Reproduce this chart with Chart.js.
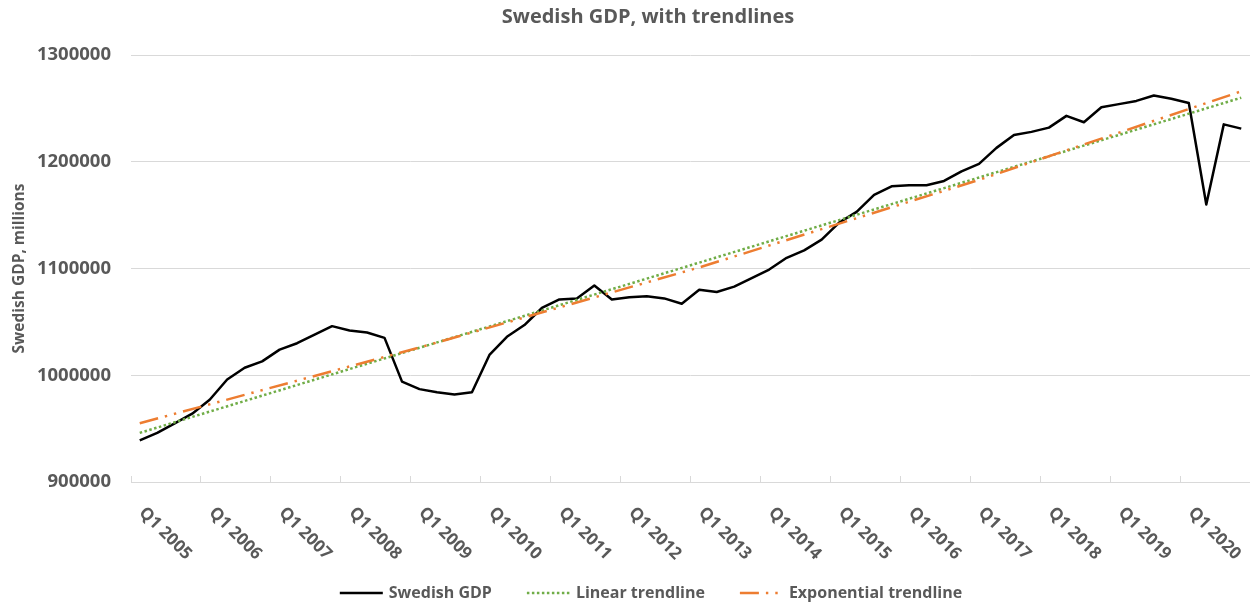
<!DOCTYPE html>
<html>
<head>
<meta charset="utf-8">
<title>Swedish GDP, with trendlines</title>
<script src="https://cdn.jsdelivr.net/npm/chart.js@4/dist/chart.umd.min.js"></script>
<style>
  html, body { margin: 0; padding: 0; background: #fff; }
  #wrap { width: 1250px; height: 604px; position: relative; }
</style>
</head>
<body>
<div id="wrap"><canvas id="gdpChart"></canvas></div>
<script>
// Quarterly Swedish GDP, millions
const quarters = [
  'Q1 2005', 'Q2 2005', 'Q3 2005', 'Q4 2005',
  'Q1 2006', 'Q2 2006', 'Q3 2006', 'Q4 2006',
  'Q1 2007', 'Q2 2007', 'Q3 2007', 'Q4 2007',
  'Q1 2008', 'Q2 2008', 'Q3 2008', 'Q4 2008',
  'Q1 2009', 'Q2 2009', 'Q3 2009', 'Q4 2009',
  'Q1 2010', 'Q2 2010', 'Q3 2010', 'Q4 2010',
  'Q1 2011', 'Q2 2011', 'Q3 2011', 'Q4 2011',
  'Q1 2012', 'Q2 2012', 'Q3 2012', 'Q4 2012',
  'Q1 2013', 'Q2 2013', 'Q3 2013', 'Q4 2013',
  'Q1 2014', 'Q2 2014', 'Q3 2014', 'Q4 2014',
  'Q1 2015', 'Q2 2015', 'Q3 2015', 'Q4 2015',
  'Q1 2016', 'Q2 2016', 'Q3 2016', 'Q4 2016',
  'Q1 2017', 'Q2 2017', 'Q3 2017', 'Q4 2017',
  'Q1 2018', 'Q2 2018', 'Q3 2018', 'Q4 2018',
  'Q1 2019', 'Q2 2019', 'Q3 2019', 'Q4 2019',
  'Q1 2020', 'Q2 2020', 'Q3 2020', 'Q4 2020'
];

const gdp = [
  939000, 946000, 955000, 964000,
  977000, 996000, 1007000, 1013000,
  1024000, 1030000, 1038000, 1046000,
  1042000, 1040000, 1035000, 994000,
  987000, 984000, 982000, 984000,
  1019000, 1036000, 1047000, 1063000,
  1071000, 1072000, 1084000, 1071000,
  1073000, 1074000, 1072000, 1067000,
  1080000, 1078000, 1083000, 1091000,
  1099000, 1110000, 1117000, 1127000,
  1143000, 1153000, 1169000, 1177000,
  1178000, 1178000, 1182000, 1191000,
  1198000, 1213000, 1225000, 1228000,
  1232000, 1243000, 1237000, 1251000,
  1254000, 1257000, 1262000, 1259000,
  1255000, 1160000, 1235000, 1231000
];

// trendline readings: quarter index -> value
const linearTrendIdx = [0, 63];
const linearTrendVal = [946000, 1260000];
const expTrendIdx = [0, 16, 32, 48, 63];
const expTrendVal = [955000, 1026000, 1101000, 1183000, 1266000];

const yTicks = [900000, 1000000, 1100000, 1200000, 1300000];

const textColor = '#595959';
const gridColor = '#d9d9d9';
const fontFamily = "'Open Sans', sans-serif";

// place sparse readings on the quarter axis, gaps spanned by the line
function placeOnQuarters(idx, vals) {
    const out = quarters.map(() => null);
    idx.forEach((q, k) => { out[q] = vals[k]; });
    return out;
}

Chart.defaults.font.family = fontFamily;
Chart.defaults.color = textColor;

// title, slanted year labels and the line-sample legend
const decorations = {
    id: 'decorations',
    afterDraw(chart) {
        const ctx = chart.ctx;
        const xScale = chart.scales.x;
        const area = chart.chartArea;
        ctx.save();
        ctx.fillStyle = textColor;

        ctx.font = `bold 20px ${fontFamily}`;
        ctx.textAlign = 'center';
        ctx.textBaseline = 'middle';
        ctx.fillText('Swedish GDP, with trendlines', 648, 17);

        ctx.font = `bold 17px ${fontFamily}`;
        ctx.textAlign = 'left';
        quarters.forEach((q, i) => {
            if (!q.startsWith('Q1')) return;
            const px = xScale.getPixelForValue(i);
            ctx.save();
            ctx.translate(px + 2, area.bottom + 28);
            ctx.rotate(Math.PI / 4);
            ctx.fillText(q, 0, 0);
            ctx.restore();
        });

        ctx.font = `bold 16px ${fontFamily}`;
        const sample = 43, gapText = 6, gapItem = 35;
        const items = chart.data.datasets.map(ds => ({ ds, w: ctx.measureText(ds.label).width }));
        const total = items.reduce((s, it) => s + sample + gapText + it.w, 0) + gapItem * (items.length - 1);
        let lx = 651 - total / 2;
        const ly = 593;
        items.forEach(it => {
            ctx.beginPath();
            ctx.strokeStyle = it.ds.borderColor;
            ctx.lineWidth = it.ds.borderWidth;
            ctx.setLineDash(it.ds.borderDash || []);
            ctx.moveTo(lx, ly);
            ctx.lineTo(lx + sample, ly);
            ctx.stroke();
            ctx.setLineDash([]);
            lx += sample + gapText;
            ctx.fillText(it.ds.label, lx, ly);
            lx += it.w + gapItem;
        });
        ctx.restore();
    }
};

new Chart(document.getElementById('gdpChart'), {
    type: 'line',
    data: {
        labels: quarters,
        datasets: [
            {
                label: 'Swedish GDP',
                data: gdp,
                borderColor: '#000000',
                borderWidth: 2.5,
                borderJoinStyle: 'round',
                pointRadius: 0,
                tension: 0,
                order: 3
            },
            {
                label: 'Linear trendline',
                data: placeOnQuarters(linearTrendIdx, linearTrendVal),
                borderColor: '#70ad47',
                borderWidth: 2.5,
                borderDash: [2.5, 2.5],
                pointRadius: 0,
                spanGaps: true,
                order: 2
            },
            {
                label: 'Exponential trendline',
                data: placeOnQuarters(expTrendIdx, expTrendVal),
                borderColor: '#ed7d31',
                borderWidth: 2.5,
                borderDash: [19, 7, 2.4, 7, 2.4, 7],
                pointRadius: 0,
                spanGaps: true,
                order: 1
            }
        ]
    },
    options: {
        responsive: true,
        maintainAspectRatio: false,
        animation: false,
        layout: { padding: { top: 55, left: 0, right: 0, bottom: 0 } },
        plugins: {
            legend: { display: false },
            title: { display: false },
            tooltip: { enabled: false }
        },
        scales: {
            x: {
                type: 'category',
                offset: true,
                grid: {
                    offset: true,
                    drawOnChartArea: false,
                    drawTicks: true,
                    tickLength: -6,
                    color: c => (c.index % 4 === 0 ? gridColor : 'rgba(0,0,0,0)')
                },
                border: { color: gridColor, width: 1 },
                ticks: { display: false, autoSkip: false },
                afterFit: s => { s.height = 122; }
            },
            y: {
                min: yTicks[0],
                max: yTicks[yTicks.length - 1],
                ticks: {
                    stepSize: yTicks[1] - yTicks[0],
                    padding: 20,
                    color: textColor,
                    font: { size: 18.5, weight: 'bold' },
                    callback: v => String(v)
                },
                grid: { color: gridColor, drawTicks: false },
                border: { display: false },
                title: {
                    display: true,
                    text: 'Swedish GDP, millions',
                    color: textColor,
                    font: { size: 15.5, weight: 'bold' },
                    padding: { top: 10, bottom: 0 }
                },
                afterFit: s => { s.width = 131; }
            }
        }
    },
    plugins: [decorations]
});
</script>
</body>
</html>
